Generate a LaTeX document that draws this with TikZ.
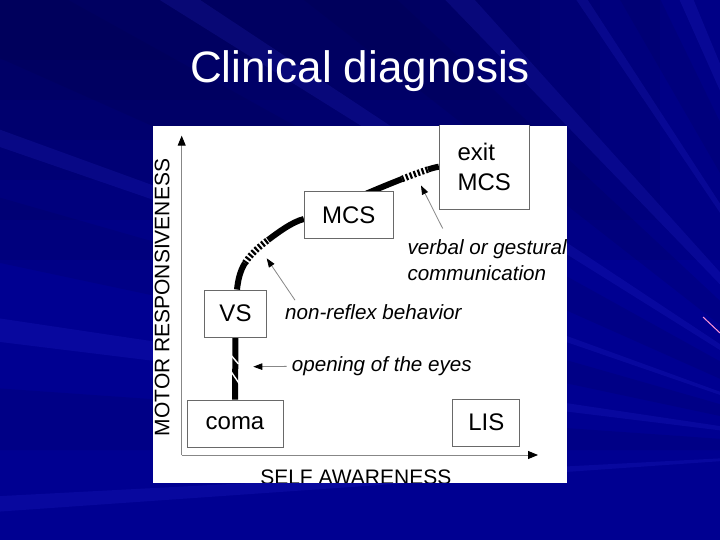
\documentclass[tikz,border=0pt]{standalone}
\usepackage{fontspec}
\setmainfont{Liberation Sans}
\usetikzlibrary{arrows.meta}
\definecolor{navybase}{RGB}{0,0,145}
\definecolor{navydeep}{RGB}{0,0,60}
\definecolor{rayhi}{RGB}{60,60,235}
\definecolor{raylo}{RGB}{0,0,60}
\definecolor{framegray}{RGB}{105,105,105}
\definecolor{axisgray}{RGB}{135,135,135}
\definecolor{streakpink}{RGB}{255,150,215}
\pgfdeclarelayer{backdrop}
\pgfdeclarelayer{track}
\pgfsetlayers{backdrop,track,main}
\tikzset{
  statebox/.style={draw=framegray, line width=0.9pt, fill=white, inner sep=0pt,
    font=\fontsize{24}{29.5}\selectfont},
  axisline/.style={draw=axisgray, line width=0.9pt, -{Triangle[length=10pt,width=8pt,color=black]}},
  hintarrow/.style={draw=axisgray, line width=0.8pt, -{Triangle[length=9pt,width=6.5pt,color=black]}},
  hinttext/.style={inner sep=0pt, align=left, font=\fontsize{20.6}{25.7}\selectfont\itshape},
  axistext/.style={inner sep=0pt, font=\fontsize{21}{25}\selectfont},
  course/.style={draw=black, line width=6pt},
  hatched/.style={course, line width=6.5pt, dash pattern=on 2.2pt off 2pt},
  slash/.style={draw=white, line width=1.4pt},
}
\begin{document}
\begin{tikzpicture}[x=1pt,y=-1pt]
\useasboundingbox (0,0) rectangle (720,540);

\begin{pgfonlayer}{backdrop}
\clip (0,0) rectangle (720,540);
\fill[navybase] (0,0) rectangle (720,540);
% darker upper left
\foreach \k in {0,...,5}
  \fill[navydeep, opacity=.12] (0,0) rectangle (720-60*\k,260-40*\k);
% fan of streaks
\begin{scope}[shift={(880,450)}]
\foreach \a/\b in {176/177, 187/188.5, 199/200, 212/213.5, 226/228, 236/237, 246/247.5}
  \fill[rayhi, opacity=.15] (0,0) -- (\a:1300) -- (\b:1300) -- cycle;
\foreach \a/\b in {180/184, 192/196, 204/209, 218/223, 240/244}
  \fill[raylo, opacity=.12] (0,0) -- (\a:1300) -- (\b:1300) -- cycle;
\end{scope}
\draw[streakpink, line width=1pt] (703,317) -- (720,333);
% white panel
\fill[white] (152.7,126) rectangle (567,482.7);
\end{pgfonlayer}

\node[font=\fontsize{44}{50}\selectfont, text=white, inner sep=0pt, anchor=base] (title) at (360,83) {Clinical diagnosis};

\begin{scope}
\clip (152.7,126) rectangle (567,482.7);
\coordinate (origin) at (181.7,455);
\coordinate (ytop) at (181.7,135.7);
\coordinate (xend) at (538,455);
\draw[axisline] (origin) -- (ytop);
\draw[axisline] (origin) -- (xend);
\node[axistext, rotate=90, anchor=base] (ylabel) at (169.3,297.5) {MOTOR RESPONSIVENESS};
\node[axistext, anchor=base] (xlabel) at (355.8,484.3) {SELF AWARENESS};

% states
\node[statebox, minimum width=96pt, minimum height=47pt] (coma) at (235,423.5) {coma};
\node[statebox, minimum width=67pt, minimum height=47pt] (LIS) at (486.3,422.5) {LIS};
\node[statebox, minimum width=62pt, minimum height=47pt] (VS) at (235.5,313.5) {VS};
\node[statebox, minimum width=89pt, minimum height=47pt] (MCS) at (348.8,215.3) {MCS};
\node[statebox, minimum width=90pt, minimum height=85pt, align=left] (exit) at (484.3,166.7) {exit\\MCS};

% transitions
\node[hinttext, anchor=base west] (eyes) at (291.7,371.7) {opening of the eyes};
\node[hinttext, anchor=base west] (nonreflex) at (285,319.3) {non-reflex behavior};
\node[hinttext, anchor=north west] (verbal) at (407.3,239.5) {verbal or gestural\\communication};
\coordinate (eyestip) at (253.3,366.7);
\coordinate (nonreflextip) at (266.7,258.3);
\coordinate (verbaltip) at (421,185.5);
\draw[hintarrow] ([xshift=-5pt]eyes.west) -- (eyestip);
\draw[hintarrow] ([shift={(10pt,4pt)}]nonreflex.north west) -- (nonreflextip);
\draw[hintarrow] ([shift={(35.4pt,11pt)}]verbal.north west) -- (verbaltip);
\end{scope}

\begin{pgfonlayer}{track}
\coordinate (vsbend) at (245,263);
\coordinate (vsend) at (268,240);
\coordinate (mcsbend) at (402,179);
\coordinate (mcsend) at (428,169.5);
\draw[course] (coma.north) -- (VS.south);
\draw[slash] (230,354) -- (238.5,364);
\draw[slash] (231,371.5) -- (239.5,384);
\draw[course] ([xshift=1.5pt]VS.north) .. controls +(1,-9) and +(-5.2,8.3) .. (vsbend);
\draw[hatched] (vsbend) .. controls +(5.2,-8.3) and +(-9.8,7.3) .. (vsend);
\draw[course] (vsend) .. controls +(9.8,-7.3) and +(-12,3) .. ([yshift=-3.7pt]MCS.west);
\draw[course] ([shift={(9pt,-6pt)}]MCS.north) .. controls +(15,-6.5) and +(-14,5.5) .. (mcsbend);
\draw[hatched] (mcsbend) .. controls +(9,-3.5) and +(-9,3) .. (mcsend);
\draw[course] (mcsend) .. controls +(4,-1.2) and +(-4,0.6) .. (exit.west);
\end{pgfonlayer}
\end{tikzpicture}
\end{document}
